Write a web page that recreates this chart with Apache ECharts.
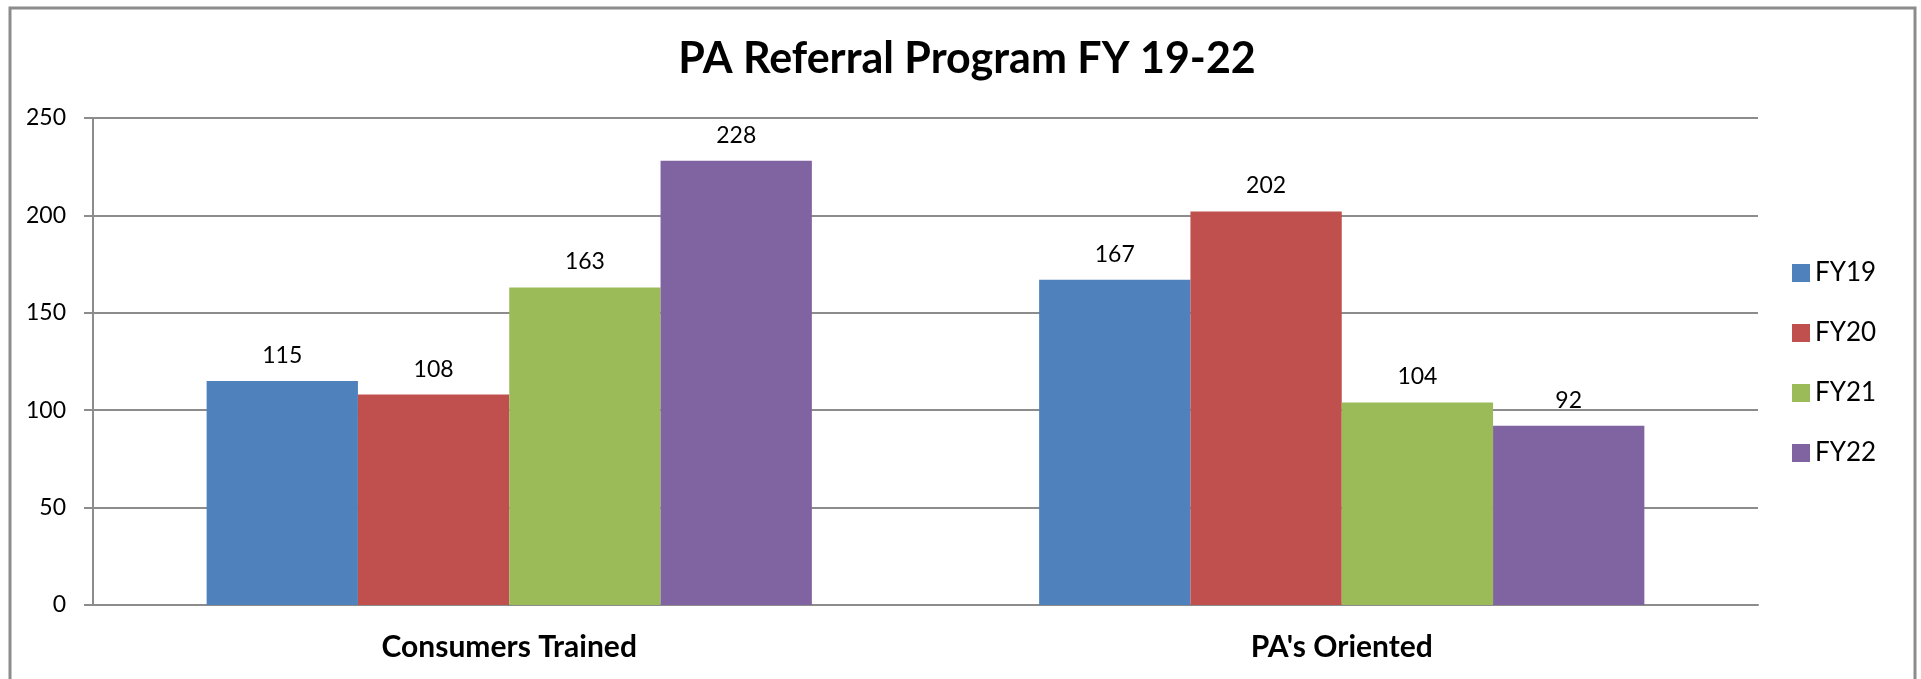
<!DOCTYPE html>
<html>
<head>
<meta charset="utf-8">
<script src="https://cdn.jsdelivr.net/npm/echarts@6/dist/echarts.min.js"></script>
<style>
html,body{margin:0;padding:0;background:#fff;}
#chart{width:1921px;height:679px;}
</style>
</head>
<body>
<div id="chart"></div>
<script>
const titleText = 'PA Referral Program FY 19-22';
const categories = ['Consumers Trained', "PA's Oriented"];
const seriesNames = ['FY19', 'FY20', 'FY21', 'FY22'];
const fy19 = [115, 167];
const fy20 = [108, 202];
const fy21 = [163, 104];
const fy22 = [228, 92];
const yTicks = [0, 50, 100, 150, 200, 250];
const colors = ['#4F81BD', '#C0504D', '#9BBB59', '#8064A2'];

const seriesData = [fy19, fy20, fy21, fy22];
const FONT = 'Lato';

const chart = echarts.init(document.getElementById('chart'), null, {renderer: 'canvas'});
chart.setOption({
  backgroundColor: '#ffffff',
  animation: false,
  color: colors,
  title: {
    text: titleText,
    left: 962, top: 33, textAlign: 'center',
    textStyle: {fontFamily: FONT, fontWeight: 'bold', fontSize: 43, color: '#000'}
  },
  graphic: [{
    type: 'rect', silent: true,
    shape: {x: 10, y: 8, width: 1905, height: 700},
    style: {fill: 'none', stroke: '#8c8c8c', lineWidth: 3}
  }],
  legend: {
    orient: 'vertical',
    left: 1787, top: 253,
    itemWidth: 18, itemHeight: 18, itemGap: 30,
    icon: 'rect',
    textStyle: {fontFamily: FONT, fontSize: 26, color: '#000', lineHeight: 30},
    data: seriesNames
  },
  grid: {left: 93, right: 163, top: 118, bottom: 74, containLabel: false},
  xAxis: {
    type: 'category',
    data: categories,
    axisLine: {lineStyle: {color: '#8c8c8c', width: 2}},
    axisTick: {show: false},
    axisLabel: {fontFamily: FONT, fontWeight: 'bold', fontSize: 30, color: '#000', margin: 27}
  },
  yAxis: {
    type: 'value', min: yTicks[0], max: yTicks[yTicks.length-1], interval: 50,
    axisLine: {show: true, lineStyle: {color: '#8c8c8c', width: 2}},
    axisTick: {show: true, length: 9, lineStyle: {color: '#8c8c8c', width: 2}},
    splitLine: {lineStyle: {color: '#8c8c8c', width: 2}},
    axisLabel: {fontFamily: FONT, fontSize: 23, color: '#000', margin: 27}
  },
  series: seriesNames.map((n, i) => ({
    name: n, type: 'bar',
    data: seriesData[i],
    barGap: 0, barCategoryGap: '27.3%',
    itemStyle: {color: colors[i]},
    label: {show: true, position: 'top', distance: 14, fontFamily: FONT, fontSize: 23, color: '#000'}
  }))
});
</script>
</body>
</html>
